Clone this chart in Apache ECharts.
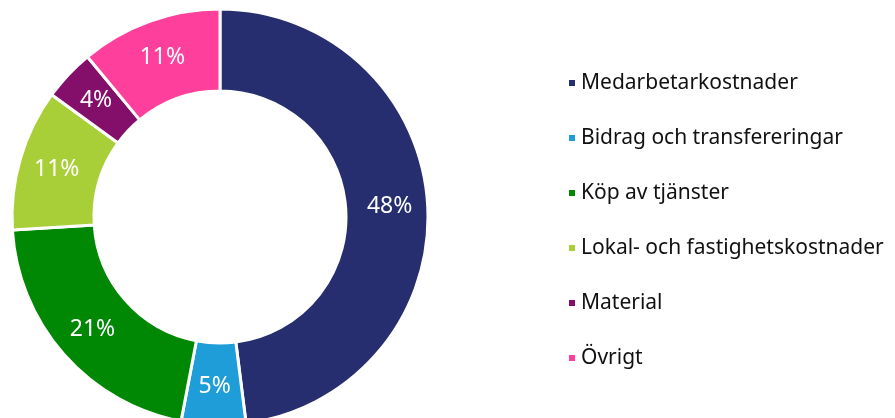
<!DOCTYPE html>
<html>
<head>
<meta charset="utf-8">
<script src="https://cdn.jsdelivr.net/npm/echarts@6/dist/echarts.min.js"></script>
<style>
  html, body { margin: 0; padding: 0; background: #fff; }
  #chart { width: 895px; height: 418px; }
</style>
</head>
<body>
<div id="chart"></div>
<script>
// kostnadsfördelning
const categories = ['Medarbetarkostnader', 'Bidrag och transfereringar', 'Köp av tjänster',
  'Lokal- och fastighetskostnader', 'Material', 'Övrigt']
const values = [48, 5, 21, 11, 4, 11]
const colors = ['#262e6f', '#1e9dd9', '#008805', '#a9cf38', '#840f6b', '#ff3f9c']

const font = '"Noto Sans", sans-serif'

let myChart = echarts.init(document.getElementById('chart'))
const option = {
  animation: false,
  color: colors,
  legend: {
    orient: 'vertical',
    left: 562,
    top: 66,
    icon: 'rect',
    itemWidth: 8,
    itemHeight: 8,
    itemGap: 31,
    textStyle: {
      fontFamily: font,
      fontSize: 21,
      lineHeight: 24,
      color: '#111'
    },
    data: categories
  },
  series: [
    {
      type: 'pie',
      center: [220, 217],
      radius: [126, 208],
      startAngle: 90,
      clockwise: true,
      itemStyle: {
        borderColor: '#fff',
        borderWidth: 3
      },
      label: {
        show: true,
        position: 'inside',
        formatter: '{c}%',
        color: '#fff',
        fontFamily: font,
        fontSize: 23
      },
      labelLine: { show: false },
      emphasis: { disabled: true },
      data: categories.map((name, i) => ({ name: name, value: values[i] }))
    }
  ]
}
myChart.setOption(option)
</script>
</body>
</html>
